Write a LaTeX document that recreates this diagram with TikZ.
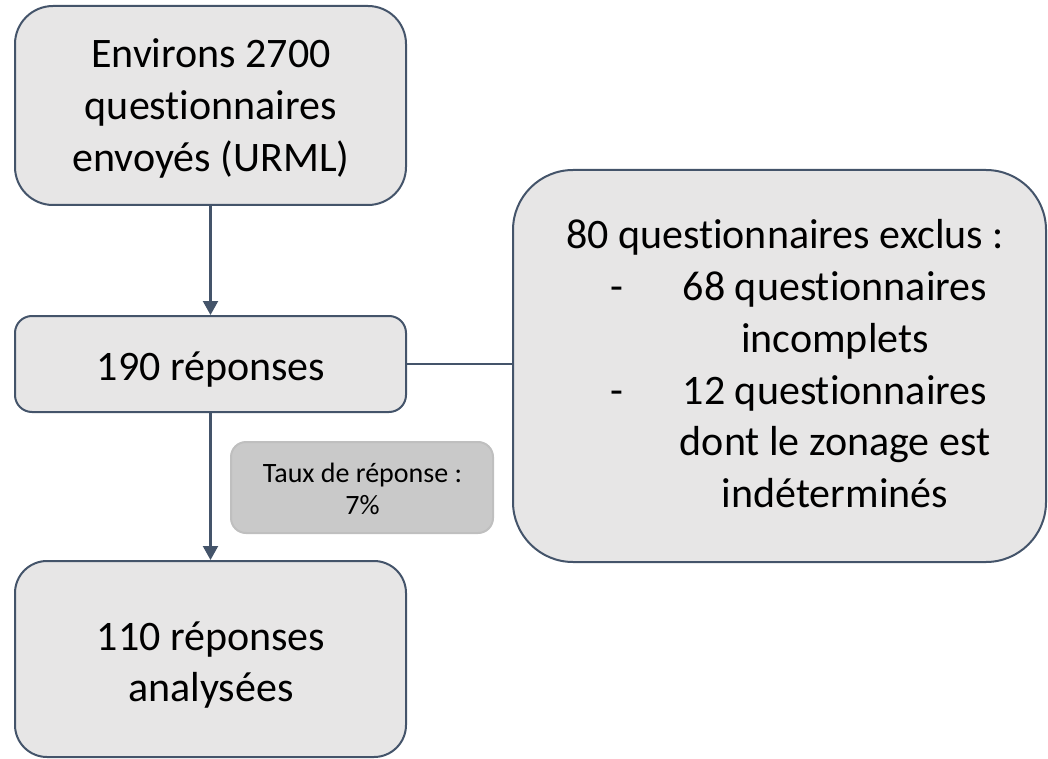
\documentclass[tikz,border=0pt]{standalone}
\usepackage{fontspec}
\setmainfont{Carlito}[Ligatures=NoCommon]
\usetikzlibrary{arrows.meta}
\definecolor{boxfill}{HTML}{E7E6E6}
\definecolor{boxline}{HTML}{44546A}
\definecolor{tagfill}{HTML}{C9C9C9}
\definecolor{tagline}{HTML}{BFBFBF}
\tikzset{
  flowbox/.style={draw=boxline, fill=boxfill, line width=2pt, inner sep=0pt},
  tagbox/.style={draw=tagline, fill=tagfill, line width=2pt, rounded corners=15pt, inner sep=0pt},
  bigtxt/.style={font=\fontsize{42}{51}\selectfont, inner sep=0pt, anchor=base},
  smalltxt/.style={font=\fontsize{28}{33}\selectfont, inner sep=0pt, anchor=base},
  arr/.style={draw=boxline, line width=2.2pt, -{Triangle[length=14pt,width=15pt]}},
  conn/.style={draw=boxline, line width=1.6pt}
}
\begin{document}
\begin{tikzpicture}[x=1pt,y=-1pt]
\useasboundingbox (0,0) rectangle (1048,759);
% boxes
\node[flowbox, minimum width=391pt, minimum height=199pt, rounded corners=38pt]
  (top) at (210.5,105.5) {};
\node[flowbox, minimum width=391pt, minimum height=96pt, rounded corners=17pt]
  (mid) at (210.5,364) {};
\node[flowbox, minimum width=391pt, minimum height=196pt, rounded corners=32pt]
  (bot) at (210.5,659) {};
\node[flowbox, minimum width=533pt, minimum height=392pt, rounded corners=60pt]
  (rbox) at (779.5,366) {};
\node[tagbox, minimum width=262pt, minimum height=91pt]
  (tag) at (362,487.5) {};
% texts
\node[bigtxt] (t1) at (211,68) {Environs 2700};
\node[bigtxt] (t2) at (211,120) {questionnaires};
\node[bigtxt] (t3) at (211,172) {envoyés (URML)};
\node[bigtxt] (m1) at (211,380) {190 réponses};
\node[bigtxt] (b1) at (211,650) {110 réponses};
\node[bigtxt] (b2) at (211,701) {analysées};
\node[smalltxt] (g1) at (362.5,482) {Taux de réponse :};
\node[smalltxt] (g2) at (362.5,514) {7\%};
\node[bigtxt] (r1) at (785,248.5) {80 questionnaires exclus :};
\node[bigtxt] (d1) at (617,300) {-};
\node[bigtxt] (r2) at (835,300) {68 questionnaires};
\node[bigtxt] (r3) at (835,352) {incomplets};
\node[bigtxt] (d2) at (617,404) {-};
\node[bigtxt] (r4) at (835,404) {12 questionnaires};
\node[bigtxt] (r5) at (835,455.5) {dont le zonage est};
\node[bigtxt] (r6) at (835,507) {indéterminés};
% connectors
\draw[arr] (top.south) -- (mid.north);
\draw[arr] (mid.south) -- (bot.north);
\draw[conn] (mid.east) -- (mid.east -| rbox.west);
\end{tikzpicture}
\end{document}
